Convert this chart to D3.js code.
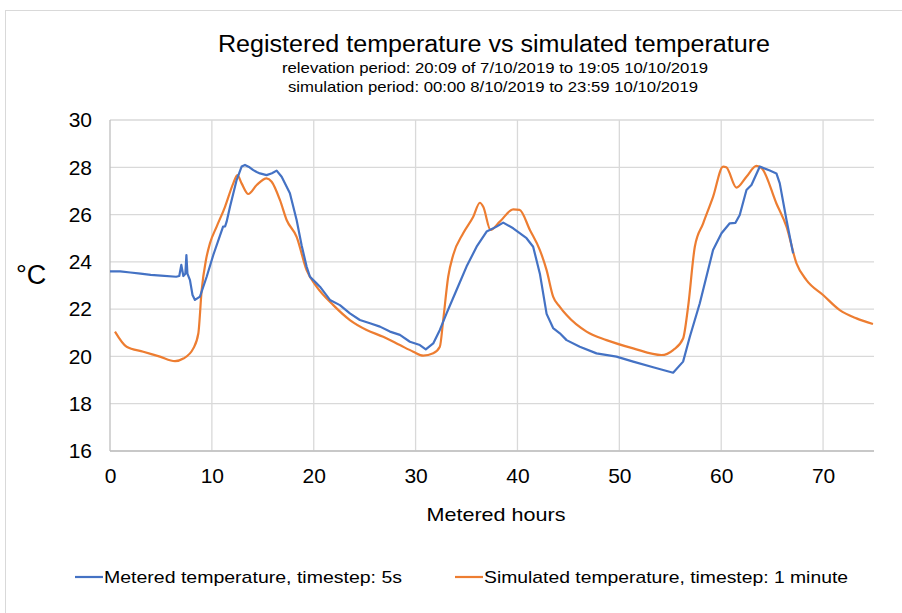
<!DOCTYPE html>
<meta charset="utf-8">
<script src="https://d3js.org/d3.v7.min.js"></script>
<style>
  body { margin: 0; background: #fff; }
  text { font-family: "Liberation Sans", Arial, sans-serif; fill: #000; }
</style>
<div id="my_dataviz"></div>
<script>

  // metered temperature (blue), [hour, °C]
  var meteredHours = [0, 1, 2, 3, 4, 5, 6.5, 6.8, 7.0, 7.2, 7.4, 7.5, 7.6, 7.85, 8.1, 8.34, 8.83, 9.49, 10.14, 11.1, 11.3, 11.45, 11.78, 12.43, 12.92, 13.25, 13.7, 14.07, 14.4, 14.72, 15.37, 15.9, 16.36, 16.85, 17.66, 18.32, 18.81, 19.3, 19.63, 20.28, 20.61, 21.59, 22.57, 23.55, 24.53, 25.52, 26.5, 27.48, 28.46, 29.44, 30.42, 31.0, 31.73, 32.38, 33.04, 34.02, 35.0, 35.99, 36.97, 37.95, 38.6, 39.58, 40.89, 41.54, 42.2, 42.86, 43.5, 44.16, 44.82, 46.12, 47.76, 49.72, 51.36, 53.32, 55.28, 56.26, 56.92, 57.9, 59.2, 60.03, 60.84, 61.4, 61.82, 62.48, 62.97, 63.79, 64.77, 65.42, 65.75, 66.41, 67.06];
  var meteredTemp = [23.6, 23.6, 23.55, 23.5, 23.45, 23.42, 23.37, 23.4, 23.87, 23.4, 23.5, 24.29, 23.5, 23.23, 22.6, 22.39, 22.53, 23.37, 24.29, 25.49, 25.5, 25.7, 26.33, 27.46, 28.03, 28.1, 28.0, 27.88, 27.8, 27.74, 27.67, 27.75, 27.86, 27.6, 26.9, 25.77, 24.7, 23.8, 23.37, 23.09, 22.95, 22.39, 22.17, 21.82, 21.54, 21.4, 21.26, 21.05, 20.91, 20.62, 20.48, 20.3, 20.55, 21.12, 21.82, 22.81, 23.8, 24.64, 25.28, 25.49, 25.66, 25.42, 25.0, 24.64, 23.5, 21.8, 21.2, 20.98, 20.69, 20.41, 20.13, 19.99, 19.78, 19.54, 19.31, 19.78, 20.83, 22.25, 24.5, 25.21, 25.63, 25.65, 25.98, 27.04, 27.25, 28.03, 27.86, 27.74, 27.32, 25.77, 24.36];

  // simulated temperature (orange), [hour, °C]
  var simHours = [0.49, 1.63, 3.27, 4.9, 6.38, 7.2, 8.18, 8.67, 9.0, 9.42, 9.81, 10.47, 11.29, 12.1, 12.5, 12.92, 13.57, 14.4, 15.37, 15.87, 16.68, 17.34, 18.32, 19.3, 20.28, 21.92, 23.55, 25.19, 26.82, 28.46, 29.77, 30.75, 31.73, 32.38, 32.71, 33.2, 33.69, 34.67, 35.66, 36.31, 36.64, 37.36, 38.27, 39.58, 40.2, 41.22, 42.2, 42.86, 43.5, 44.16, 44.82, 46.78, 48.74, 51.36, 54.14, 55.28, 56.26, 56.75, 57.41, 58.23, 59.2, 60.19, 60.5, 61.5, 62.48, 63.46, 64.0, 65.42, 66.41, 67.39, 68.37, 70.0, 71.64, 73.28, 74.9];
  var simTemp = [21.05, 20.41, 20.2, 19.99, 19.8, 19.91, 20.34, 20.97, 22.8, 24.08, 24.78, 25.49, 26.33, 27.32, 27.67, 27.32, 26.87, 27.25, 27.53, 27.39, 26.62, 25.77, 25.06, 23.65, 22.95, 22.17, 21.54, 21.12, 20.83, 20.48, 20.2, 20.03, 20.13, 20.41, 21.54, 23.37, 24.29, 25.21, 25.91, 26.5, 26.33, 25.35, 25.7, 26.22, 26.2, 25.35, 24.5, 23.65, 22.53, 22.1, 21.75, 21.05, 20.69, 20.34, 20.06, 20.27, 20.76, 22.1, 24.64, 25.63, 26.75, 28.03, 28.0, 27.14, 27.6, 28.06, 27.95, 26.47, 25.49, 23.94, 23.23, 22.6, 21.96, 21.61, 21.37];

  var xTicks = [0, 10, 20, 30, 40, 50, 60, 70];
  var yTicks = [16, 18, 20, 22, 24, 26, 28, 30];
  var seriesNames = ["Metered temperature, timestep: 5s", "Simulated temperature, timestep: 1 minute"];
  var seriesColors = ["#4472C4", "#ED7D31"];

  var W = 902, H = 613;
  var margin = {top: 120, right: 28, bottom: 162, left: 110},
      width = W - margin.left - margin.right,
      height = H - margin.top - margin.bottom;

  var root = d3.select("#my_dataviz")
    .append("svg")
      .attr("width", W)
      .attr("height", H);

  // chart frame
  root.append("rect")
    .attr("x", 5.5).attr("y", 10.5)
    .attr("width", W + 10).attr("height", H + 10)
    .attr("fill", "none").attr("stroke", "#d9d9d9");

  var svg = root.append("g")
    .attr("transform", "translate(" + margin.left + "," + margin.top + ")");

  var x = d3.scaleLinear().domain([0, 75]).range([0, width]);
  var y = d3.scaleLinear().domain([16, 30]).range([height, 0]);

  // grid
  svg.append("g").selectAll("line.h").data(yTicks).enter().append("line")
    .attr("x1", 0).attr("x2", width)
    .attr("y1", d => y(d)).attr("y2", d => y(d))
    .attr("stroke", "#d9d9d9").attr("stroke-width", 1.3);
  svg.append("g").selectAll("line.v").data(xTicks).enter().append("line")
    .attr("x1", d => x(d)).attr("x2", d => x(d))
    .attr("y1", 0).attr("y2", height)
    .attr("stroke", d => d === 0 ? "#bfbfbf" : "#d9d9d9").attr("stroke-width", 1.3);
  svg.append("line")
    .attr("x1", 0).attr("x2", width).attr("y1", height).attr("y2", height)
    .attr("stroke", "#bfbfbf").attr("stroke-width", 1.3);

  // axes labels
  var xAxis = svg.append("g")
    .attr("transform", "translate(0," + height + ")")
    .call(d3.axisBottom(x).tickValues(xTicks).tickSize(0).tickPadding(17));
  var yAxis = svg.append("g")
    .call(d3.axisLeft(y).tickValues(yTicks).tickSize(0).tickPadding(18));
  [xAxis, yAxis].forEach(function (a) {
    a.select(".domain").remove();
    a.selectAll("text").style("font-size", "21px").style("font-family", "Liberation Sans, Arial, sans-serif").attr("fill", "#000");
  });

  // lines
  var blue = meteredHours.map((h, i) => [h, meteredTemp[i]]);
  var orange = simHours.map((h, i) => [h, simTemp[i]]);

  svg.append("path")
    .datum(orange)
    .attr("fill", "none").attr("stroke", seriesColors[1]).attr("stroke-width", 2.2)
    .attr("d", d3.line().x(d => x(d[0])).y(d => y(d[1])).curve(d3.curveMonotoneX));

  svg.append("path")
    .datum(blue)
    .attr("fill", "none").attr("stroke", seriesColors[0]).attr("stroke-width", 2.2)
    .attr("stroke-linejoin", "round")
    .attr("d", d3.line().x(d => x(d[0])).y(d => y(d[1])));

  // titles
  function fit(t, len) { t.attr("textLength", len).attr("lengthAdjust", "spacingAndGlyphs"); }

  fit(root.append("text").attr("x", 494).attr("y", 52).attr("text-anchor", "middle")
    .style("font-size", "23px").text("Registered temperature vs simulated temperature"), 552);
  fit(root.append("text").attr("x", 495).attr("y", 73).attr("text-anchor", "middle")
    .style("font-size", "14.5px").text("relevation period: 20:09 of 7/10/2019 to 19:05 10/10/2019"), 426);
  fit(root.append("text").attr("x", 493).attr("y", 92).attr("text-anchor", "middle")
    .style("font-size", "14.5px").text("simulation period: 00:00 8/10/2019 to 23:59 10/10/2019"), 410);

  fit(root.append("text").attr("x", 496).attr("y", 521).attr("text-anchor", "middle")
    .style("font-size", "19px").text("Metered  hours"), 139);

  root.append("text").attr("x", 16).attr("y", 284)
    .style("font-size", "27px").text("°C");

  // legend
  var legX = [75, 455], legW = [298, 364];
  seriesNames.forEach(function (n, i) {
    root.append("line")
      .attr("x1", legX[i]).attr("x2", legX[i] + 28)
      .attr("y1", 577).attr("y2", 577)
      .attr("stroke", seriesColors[i]).attr("stroke-width", 2.2);
    fit(root.append("text").attr("x", legX[i] + 29).attr("y", 583)
      .style("font-size", "17px").text(n), legW[i]);
  });

</script>
